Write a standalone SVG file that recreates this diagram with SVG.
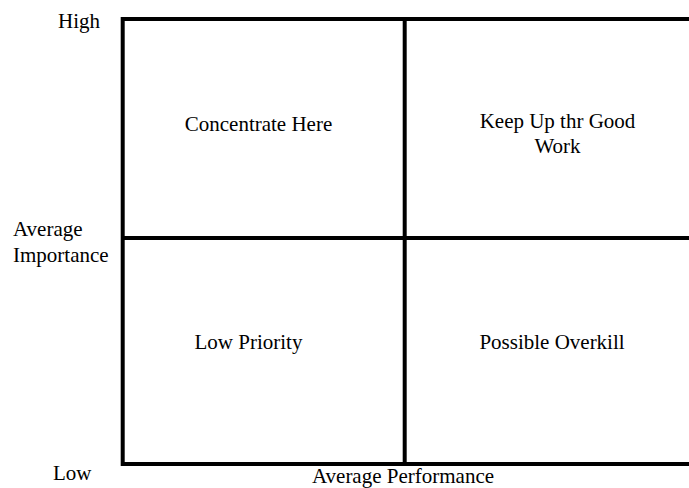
<svg xmlns="http://www.w3.org/2000/svg" width="689" height="488" viewBox="0 0 689 488">
  <style>
    .grid { stroke: #000; stroke-width: 4; fill: none; }
    .lbl { font-family: "Liberation Serif", "Times New Roman", serif; font-size: 21px; fill: #000; }
    .mid { text-anchor: middle; }
  </style>
  <rect width="689" height="488" fill="#fff"/>

  <!-- quadrant grid -->
  <g id="connectors">
    <polyline class="grid" points="700,19 122.7,19 122.7,464 700,464"/>
    <line class="grid" x1="122.7" y1="238" x2="700" y2="238"/>
    <line class="grid" x1="404.7" y1="19" x2="404.7" y2="466"/>
  </g>

  <!-- axis labels -->
  <g id="axis-high"><text class="lbl" x="58" y="28">High</text></g>
  <g id="axis-average-importance">
    <text class="lbl" x="13" y="236">Average</text>
    <text class="lbl" x="13" y="262">Importance</text>
  </g>
  <g id="axis-low"><text class="lbl" x="53" y="480">Low</text></g>
  <g id="axis-average-performance"><text class="lbl mid" x="403" y="483">Average Performance</text></g>

  <!-- quadrants -->
  <g id="q-concentrate-here"><text class="lbl mid" x="258.5" y="130.5">Concentrate Here</text></g>
  <g id="q-keep-up">
    <text class="lbl mid" x="557.5" y="128">Keep Up thr Good</text>
    <text class="lbl mid" x="557.5" y="153">Work</text>
  </g>
  <g id="q-low-priority"><text class="lbl mid" x="248.5" y="349">Low Priority</text></g>
  <g id="q-possible-overkill"><text class="lbl mid" x="552" y="349">Possible Overkill</text></g>
</svg>
